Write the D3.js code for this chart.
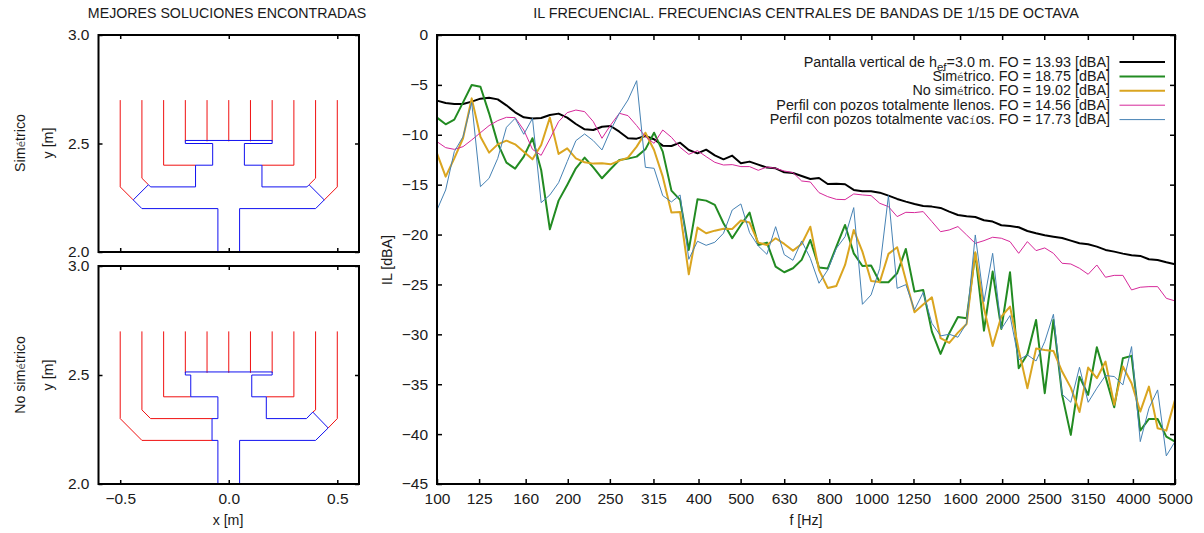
<!DOCTYPE html>
<html>
<head>
<meta charset="utf-8">
<script src="https://cdn.jsdelivr.net/npm/d3@7"></script>
<style>
body { margin: 0; background: #fff; }
text { font-family: "Liberation Sans", Arial, sans-serif; font-size: 14.2px; fill: #1a1a1a; }
.odd { font-family: "DejaVu Sans Mono", monospace; font-size: 11px; fill: #555; }
.axis path, .axis line { stroke: #000; stroke-width: 1.5px; }
.axis text { font-size: 15.5px; fill: #1a1a1a; }
.frame { fill: none; stroke: #000; stroke-width: 2px; }
</style>
</head>
<body>
<svg id="chart" width="1204" height="533"></svg>
<script>
// Band centres, 86 points from 100 to 5000 Hz
const freqs = [100, 104.7, 109.6, 114.8, 120.2, 125.9, 131.8, 138, 144.5, 151.3, 158.4, 165.9, 173.7, 181.9, 190.5, 199.4,
    208.8, 218.7, 229, 239.8, 251, 262.9, 275.2, 288.2, 301.8, 316, 330.9, 346.5, 362.8, 379.9, 397.8, 416.5, 436.1, 456.6,
    478.2, 500.7, 524.3, 549, 574.8, 601.9, 630.2, 659.9, 691, 723.5, 757.6, 793.3, 830.6, 869.8, 910.7, 953.6, 998.5,
    1045.6, 1094.8, 1146.4, 1200.4, 1256.9, 1316.1, 1378.1, 1443, 1511, 1582.1, 1656.7, 1734.7, 1816.4, 1901.9, 1991.5,
    2085.3, 2183.5, 2286.4, 2394, 2506.8, 2624.9, 2748.5, 2877.9, 3013.5, 3155.4, 3304, 3459.7, 3622.6, 3793.2, 3971.8,
    4159, 4354.8, 4559.9, 4774.7, 5000];
const freqTicks = [100, 125, 160, 200, 250, 315, 400, 500, 630, 800, 1000, 1250, 1600, 2000, 2500, 3150, 4000, 5000];

const vertical = [-6.58, -6.81, -6.91, -6.91, -6.68, -6.38, -6.28, -6.45, -7.05, -7.75, -8.25, -8.38, -8.32, -8.02, -7.88, -8.28,
    -8.92, -9.45, -9.52, -9.19, -9.12, -9.69, -10.35, -10.39, -10.12, -10.45, -11.09, -11.12, -10.79, -11.52, -11.86, -11.49,
    -12.06, -12.46, -12.09, -12.86, -12.69, -12.99, -13.29, -13.36, -13.76, -13.83, -14.13, -14.43, -14.33, -14.93, -14.9, -14.96,
    -15.53, -15.66, -15.66, -15.8, -16.1, -16.43, -16.7, -16.93, -17.13, -17.2, -17.33, -17.7, -18.04, -18.17, -18.24, -18.57,
    -18.7, -19.07, -19.14, -19.27, -19.64, -19.87, -20.07, -20.21, -20.34, -20.61, -20.87, -20.98, -21.21, -21.54, -21.71, -21.91,
    -22.08, -22.14, -22.48, -22.55, -22.78, -22.98];
const simetrico = [-8.28, -8.95, -8.48, -6.75, -5.01, -5.18, -7.85, -10.86, -12.79, -13.39, -12.19, -10.35, -13.53, -19.47, -16.6, -15.03,
    -13.36, -12.29, -13.26, -14.36, -13.43, -12.53, -12.39, -12.19, -11.46, -9.79, -11.69, -15.6, -16.53, -21.54, -16.47, -16.6,
    -17.03, -18.87, -20.37, -19.04, -17.8, -21.04, -20.81, -23.21, -23.78, -23.38, -22.54, -20.54, -23.31, -23.41, -21.21, -19.04,
    -21.88, -23.15, -23.11, -24.78, -24.78, -23.88, -21.44, -25.72, -25.55, -29.73, -31.96, -29.89, -28.26, -28.39, -21.88, -29.63,
    -23.71, -29.46, -23.78, -33.4, -31.99, -28.56, -35.9, -28.56, -36.07, -40.08, -34.24, -36.07, -31.29, -34.24, -37.31, -32.4,
    -32.16, -39.65, -38.48, -38.48, -40.25, -40.75];
const noSimetrico = [-11.86, -14.2, -12.36, -10.35, -6.35, -10.19, -11.79, -10.96, -10.59, -10.96, -11.69, -12.46, -11.02, -8.28, -11.92, -11.36,
    -12.36, -12.76, -12.89, -12.86, -12.96, -12.59, -12.29, -11.19, -9.79, -11.52, -14.2, -17.8, -17.74, -23.98, -19.3, -19.87,
    -19.61, -19.41, -19.44, -18.6, -18.8, -20.81, -21.04, -20.37, -20.94, -21.61, -20.94, -19.21, -23.55, -25.35, -25.15, -23.05,
    -19.54, -21.71, -24.65, -24.75, -21.94, -21.27, -24.55, -27.79, -27, -26.29, -30.39, -30.86, -29.83, -28.96, -21.78, -27.39,
    -31.16, -28.22, -27.22, -31.56, -35.4, -31.43, -31.56, -31.66, -33.73, -35.34, -37.78, -33.33, -34.4, -32.73, -37.07, -33.23,
    -34.9, -37.74, -35.24, -39.41, -39.65, -36.57];
const llenos = [-10.69, -11.29, -11.46, -11.19, -10.52, -9.79, -9.08, -8.58, -8.25, -8.28, -9.52, -11.46, -12.06, -10.42, -8.68, -7.78,
    -7.52, -7.68, -8.68, -10.35, -9.02, -7.85, -8.08, -9.08, -10.19, -10.86, -9.52, -10.25, -11.26, -11.96, -11.59, -12.19,
    -12.76, -13.03, -12.99, -13.19, -13.19, -13.56, -13.23, -13.36, -13.63, -13.79, -14.63, -14.73, -15.8, -16.2, -16.47, -16.5,
    -15.93, -16.03, -16.1, -16.87, -17.2, -18.2, -17.77, -17.8, -17.7, -18.7, -19.71, -19.54, -19.2, -20.04, -20.88, -20.61,
    -20.27, -20.37, -20.71, -21.88, -20.71, -21.61, -21.34, -21.88, -22.88, -22.95, -23.38, -23.98, -23.05, -24.28, -24.09, -24.09,
    -25.55, -25.28, -25.22, -25.22, -26.39, -26.65];
const vacios = [-17.53, -15.53, -11.69, -10.19, -6.78, -15.2, -14.36, -12.36, -9.25, -8.35, -9.95, -8.35, -16.8, -16.03, -14.8, -12.69,
    -10.59, -9.92, -10.59, -11.52, -9.52, -7.85, -6.51, -4.58, -13.26, -13.36, -16.1, -16.73, -16.03, -22.48, -20.67, -21.08,
    -20.77, -19.87, -17.54, -16.93, -19.81, -21.14, -21.98, -19.21, -22.01, -22.58, -20.64, -22.38, -24.88, -23.55, -21.38, -20.21,
    -17.3, -26.99, -26.05, -23.38, -16.1, -25.39, -25.02, -27.55, -25.8, -28.89, -30.16, -29.99, -30.29, -28.89, -20.04, -26.72,
    -21.88, -29.46, -28.12, -32.57, -32.06, -32.67, -30.73, -27.99, -36, -36.81, -33.3, -36.81, -35.4, -34.13, -34.23, -35.07,
    -31.23, -40.75, -37.41, -35.57, -42.18, -40.75];

const seriesValues = [vertical, simetrico, noSimetrico, llenos, vacios];
const seriesColors = ['#000000', '#228b22', '#daa520', '#d6289a', '#4682b4'];
const seriesWidths = [2, 2, 2, 1, 1];
const seriesLabels = [
    'Pantalla vertical de h_ef=3.0 m. FO = 13.93 [dBA]',
    'Simétrico. FO = 18.75 [dBA]',
    'No simétrico. FO = 19.02 [dBA]',
    'Perfil con pozos totalmente llenos. FO = 14.56 [dBA]',
    'Perfil con pozos totalmente vacíos. FO = 17.73 [dBA]'
];

// Section outlines, [x, y] in metres
const simRed = [
    [[-0.5, 2.7], [-0.5, 2.3], [-0.44, 2.24]],
    [[-0.4, 2.7], [-0.4, 2.34], [-0.37, 2.31]],
    [[-0.3, 2.7], [-0.3, 2.4], [-0.153, 2.4]],
    [[-0.2, 2.7], [-0.2, 2.51]], [[-0.1, 2.7], [-0.1, 2.51]], [[0, 2.7], [0, 2.51]],
    [[0.1, 2.7], [0.1, 2.51]], [[0.2, 2.7], [0.2, 2.51]],
    [[0.3, 2.7], [0.3, 2.4], [0.153, 2.4]],
    [[0.4, 2.7], [0.4, 2.34], [0.37, 2.31]],
    [[0.5, 2.7], [0.5, 2.3], [0.44, 2.24]]
];
const simBlue = [
    [[-0.05, 2], [-0.05, 2.2], [-0.4, 2.2], [-0.44, 2.24], [-0.37, 2.31], [-0.36, 2.3], [-0.153, 2.3], [-0.153, 2.4], [-0.074, 2.4],
        [-0.074, 2.5], [-0.2, 2.5], [-0.2, 2.514], [0.2, 2.514], [0.2, 2.5], [0.072, 2.5], [0.072, 2.4], [0.153, 2.4], [0.153, 2.3],
        [0.36, 2.3], [0.37, 2.31], [0.44, 2.24], [0.4, 2.2], [0.05, 2.2], [0.05, 2]]
];
const noSimRed = [
    [[-0.5, 2.7], [-0.5, 2.3], [-0.4, 2.2], [-0.077, 2.2]],
    [[-0.4, 2.7], [-0.4, 2.34], [-0.36, 2.3], [-0.077, 2.3]],
    [[-0.3, 2.7], [-0.3, 2.4], [-0.175, 2.4]],
    [[-0.2, 2.7], [-0.2, 2.51]], [[-0.1, 2.7], [-0.1, 2.51]], [[0, 2.7], [0, 2.51]],
    [[0.1, 2.7], [0.1, 2.51]], [[0.2, 2.7], [0.2, 2.51]],
    [[0.3, 2.7], [0.3, 2.4], [0.173, 2.4]],
    [[0.4, 2.7], [0.4, 2.34], [0.387, 2.33]],
    [[0.5, 2.7], [0.5, 2.3], [0.458, 2.257]]
];
const noSimBlue = [
    [[-0.05, 2], [-0.05, 2.2], [-0.077, 2.2], [-0.077, 2.3], [-0.05, 2.3], [-0.05, 2.4], [-0.175, 2.4], [-0.175, 2.5], [-0.2, 2.5],
        [-0.2, 2.514], [0.2, 2.514], [0.2, 2.5], [0.106, 2.5], [0.106, 2.4], [0.173, 2.4], [0.173, 2.3], [0.358, 2.3], [0.387, 2.33],
        [0.458, 2.257], [0.4, 2.2], [0.05, 2.2], [0.05, 2]]
];

const svg = d3.select('#chart');

// Accents and the subscript come out in another font in the original
const richText = (sel, str) => {
    let shift = 0;
    str.split(/([éí]|_ef)/).filter(part => part !== '').forEach(part => {
        if (part === '_ef') {
            sel.append('tspan').attr('dy', 4).style('font-size', '11.5px').text('ef');
            shift = -4;
        } else {
            const span = sel.append('tspan').attr('dy', shift).text(part);
            if (part === 'é' || part === 'í') span.attr('class', 'odd');
            shift = 0;
        }
    });
};

const label = (x, y, str, rotate) => {
    const t = svg.append('text')
        .attr('text-anchor', 'middle')
        .attr('transform', 'translate(' + x + ',' + y + ')' + (rotate ? ' rotate(-90)' : ''));
    richText(t, str);
    return t;
};

const mirrorAxes = (g, x, y, w, h, xTicks, yTicks, size, xFmt, yFmt) => {
    g.append('g').attr('class', 'axis').attr('transform', 'translate(0,' + h + ')')
        .call(d3.axisBottom(x).tickValues(xTicks).tickSize(-size).tickPadding(9).tickFormat(xFmt));
    g.append('g').attr('class', 'axis')
        .call(d3.axisTop(x).tickValues(xTicks).tickSize(-size).tickFormat(''));
    g.append('g').attr('class', 'axis')
        .call(d3.axisLeft(y).tickValues(yTicks).tickSize(-size).tickPadding(9).tickFormat(yFmt));
    g.append('g').attr('class', 'axis').attr('transform', 'translate(' + w + ',0)')
        .call(d3.axisRight(y).tickValues(yTicks).tickSize(-size).tickFormat(''));
    g.selectAll('.axis path').remove();
    g.append('rect').attr('class', 'frame').attr('width', w).attr('height', h);
};

// Left panels
const secX = d3.scaleLinear().domain([-0.6, 0.6]).range([0, 260.5]);
const secLine = (y) => d3.line().x(d => secX(d[0])).y(d => y(d[1]));

const drawSection = (top, h, red, blue, showX) => {
    const y = d3.scaleLinear().domain([2, 3]).range([h, 0]);
    const g = svg.append('g').attr('transform', 'translate(98.5,' + top + ')');
    const line = secLine(y);
    g.selectAll('.red').data(red).enter().append('path')
        .attr('fill', 'none').attr('stroke', '#f01010').attr('stroke-width', 1).attr('d', line);
    g.selectAll('.blue').data(blue).enter().append('path')
        .attr('fill', 'none').attr('stroke', '#1010f0').attr('stroke-width', 1).attr('d', line);
    mirrorAxes(g, secX, y, 260.5, h, [-0.5, 0, 0.5], [2, 2.5, 3], 4,
        showX ? d3.format('.1f') : () => '', d3.format('.1f'));
};

drawSection(35, 217, simRed, simBlue, false);
drawSection(266, 218, noSimRed, noSimBlue, true);

label(227, 18, 'MEJORES SOLUCIONES ENCONTRADAS');
label(25, 143, 'Simétrico', true);
label(53, 143, 'y [m]', true);
label(25, 375, 'No simétrico', true);
label(53, 375, 'y [m]', true);
label(228, 525, 'x [m]');

// Main panel
const mainW = 738, mainH = 449;
const x = d3.scaleLog().domain([100, 5000]).range([0, mainW]);
const y = d3.scaleLinear().domain([-45, 0]).range([mainH, 0]);
const main = svg.append('g').attr('transform', 'translate(437,35)');

const valueLine = d3.line().x((d, i) => x(freqs[i])).y(d => y(d));

seriesValues.forEach((vals, i) => {
    main.append('path')
        .attr('fill', 'none')
        .attr('stroke', seriesColors[i])
        .attr('stroke-width', seriesWidths[i])
        .attr('stroke-linejoin', 'round')
        .attr('d', valueLine(vals));
});

mirrorAxes(main, x, y, mainW, mainH, freqTicks, d3.range(-45, 1, 5), 5, d3.format('d'), d3.format('d'));

// Legend
const legend = svg.append('g').attr('transform', 'translate(1110,62)');
seriesLabels.forEach((s, i) => {
    const row = legend.append('g').attr('transform', 'translate(0,' + (i * 14.4) + ')');
    const t = row.append('text').attr('text-anchor', 'end').attr('y', 4.5).style('font-size', '14.35px');
    richText(t, s);
    row.append('line').attr('x1', 9.5).attr('x2', 55)
        .attr('stroke', seriesColors[i]).attr('stroke-width', seriesWidths[i]);
});

label(806, 18, 'IL FRECUENCIAL. FRECUENCIAS CENTRALES DE BANDAS DE 1/15 DE OCTAVA').style('font-size', '14.4px');
label(392, 260, 'IL [dBA]', true);
label(806, 525, 'f [Hz]');
</script>
</body>
</html>
